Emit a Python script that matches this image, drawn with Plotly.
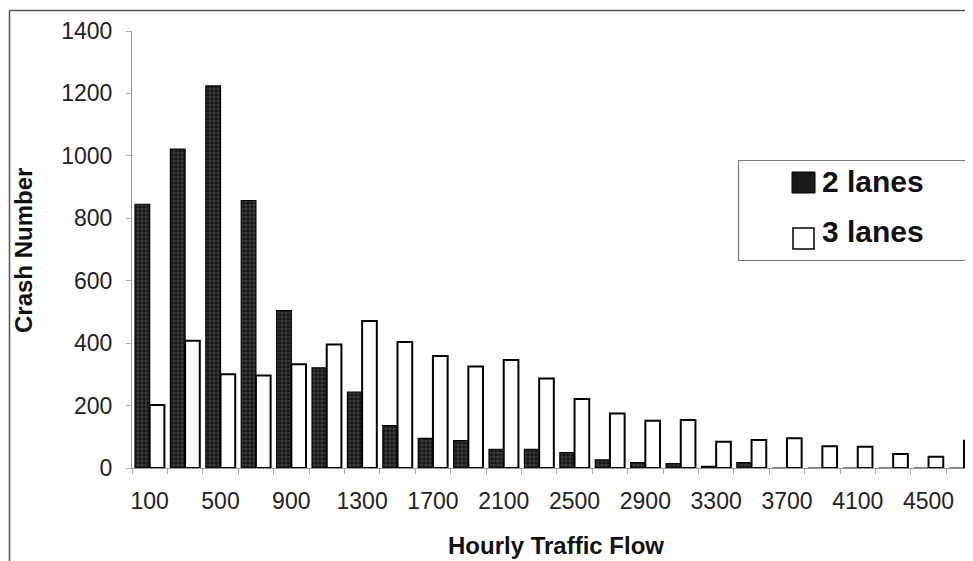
import plotly.graph_objects as go

flow = [100, 300, 500, 700, 900, 1100, 1300, 1500, 1700, 1900, 2100, 2300,
        2500, 2700, 2900, 3100, 3300, 3500, 3700, 3900, 4100, 4300, 4500, 4700]
two_lanes = [845, 1022, 1224, 857, 504, 321, 243, 136, 95, 88, 60, 60,
             49, 26, 17, 14, 5, 17, 0, 0, 0, 0, 0, 0]
three_lanes = [202, 408, 300, 296, 332, 396, 471, 404, 359, 325, 346, 287,
               221, 175, 151, 154, 84, 90, 95, 70, 68, 45, 36, 87]
x_ticks = [100, 500, 900, 1300, 1700, 2100, 2500, 2900, 3300, 3700, 4100, 4500]
y_ticks = [0, 200, 400, 600, 800, 1000, 1200, 1400]
series_names = ["2 lanes", "3 lanes"]

OFF = 8  # page body margin
W, H = 973 - OFF, 561 - OFF
L, R, T, B = 132 - OFF, 0, 31 - OFF, 561 - 468
pw, ph = W - L - R, H - T - B

def px(xp):
    return (xp - OFF - L) / pw

def py(yp):
    return (H - B - (yp - OFF)) / ph

FONT = "Liberation Sans, Arial, sans-serif"

fig = go.Figure()
fig.add_trace(go.Bar(
    x=flow, y=two_lanes, name=series_names[0], showlegend=False,
    marker=dict(color="#111111",
                line=dict(color="#000000", width=1.2),
                pattern=dict(shape="+", fgcolor="#9a9a9a", bgcolor="#141414",
                             size=4, solidity=0.3)),
))
fig.add_trace(go.Bar(
    x=flow, y=three_lanes, name=series_names[1], showlegend=False,
    marker=dict(color="#ffffff", line=dict(color="#000000", width=2)),
))

fig.update_layout(
    width=W, height=H,
    margin=dict(l=L, r=R, t=T, b=B, pad=0),
    paper_bgcolor="white", plot_bgcolor="white",
    barmode="group", bargap=0.17, bargroupgap=0,
    font=dict(family=FONT, color="#222222", size=23),
    xaxis=dict(
        range=[0, 4751], showgrid=False, zeroline=False,
        showline=True, linecolor="#999999", linewidth=1,
        tickmode="array", tickvals=x_ticks, ticktext=[str(v) for v in x_ticks],
        ticks="", ticklabelstandoff=12,
        tickfont=dict(size=23, color="#222222"),
        minor=dict(tick0=0, dtick=200, ticks="outside", ticklen=5,
                   tickcolor="#aaaaaa", tickwidth=1, showgrid=False),
    ),
    yaxis=dict(
        range=[0, 1400], showgrid=False, zeroline=False,
        showline=True, linecolor="#999999", linewidth=1,
        tickmode="array", tickvals=y_ticks, ticks="outside", ticklen=5,
        tickcolor="#aaaaaa", ticklabelstandoff=9,
        tickfont=dict(size=23, color="#222222"),
    ),
)

shapes = []
# outer chart frame (cut by the picture edges)
shapes.append(dict(type="line", xref="paper", yref="paper",
                   x0=px(9.5), x1=px(1000), y0=py(10.5), y1=py(10.5),
                   line=dict(color="#555555", width=1.5)))
shapes.append(dict(type="line", xref="paper", yref="paper",
                   x0=px(9.5), x1=px(9.5), y0=py(10.5), y1=py(600),
                   line=dict(color="#555555", width=1.5)))
# legend box
shapes.append(dict(type="rect", xref="paper", yref="paper",
                   x0=px(738.5), x1=px(1000), y0=py(160.5), y1=py(260.5),
                   line=dict(color="#777777", width=1.2), fillcolor="white", layer="above"))
# legend swatches
shapes.append(dict(type="rect", xref="paper", yref="paper",
                   x0=px(792), x1=px(815), y0=py(172), y1=py(193),
                   line=dict(color="#000000", width=1), fillcolor="#1a1a1a", layer="above"))
shapes.append(dict(type="rect", xref="paper", yref="paper",
                   x0=px(793), x1=px(814), y0=py(228), y1=py(249),
                   line=dict(color="#000000", width=1.5), fillcolor="white", layer="above"))
fig.update_layout(shapes=shapes)

ann = [
    dict(text="Hourly Traffic Flow", xref="paper", yref="paper",
         x=px(556), y=py(545), xanchor="center", yanchor="middle",
         showarrow=False, font=dict(family=FONT, size=24, color="#111111")),
    dict(text="Crash Number", xref="paper", yref="paper",
         x=px(24), y=py(251), xanchor="center", yanchor="middle", textangle=-90,
         showarrow=False, font=dict(family=FONT, size=24, color="#111111")),
    dict(text=series_names[0], xref="paper", yref="paper",
         x=px(820), y=py(181), xanchor="left", yanchor="middle",
         showarrow=False, font=dict(family=FONT, size=30, color="#111111")),
    dict(text=series_names[1], xref="paper", yref="paper",
         x=px(820), y=py(232), xanchor="left", yanchor="middle",
         showarrow=False, font=dict(family=FONT, size=30, color="#111111")),
]
for a in ann:
    a["text"] = "<b>" + a["text"] + "</b>"
fig.update_layout(annotations=ann)

fig.write_html("out.html")
